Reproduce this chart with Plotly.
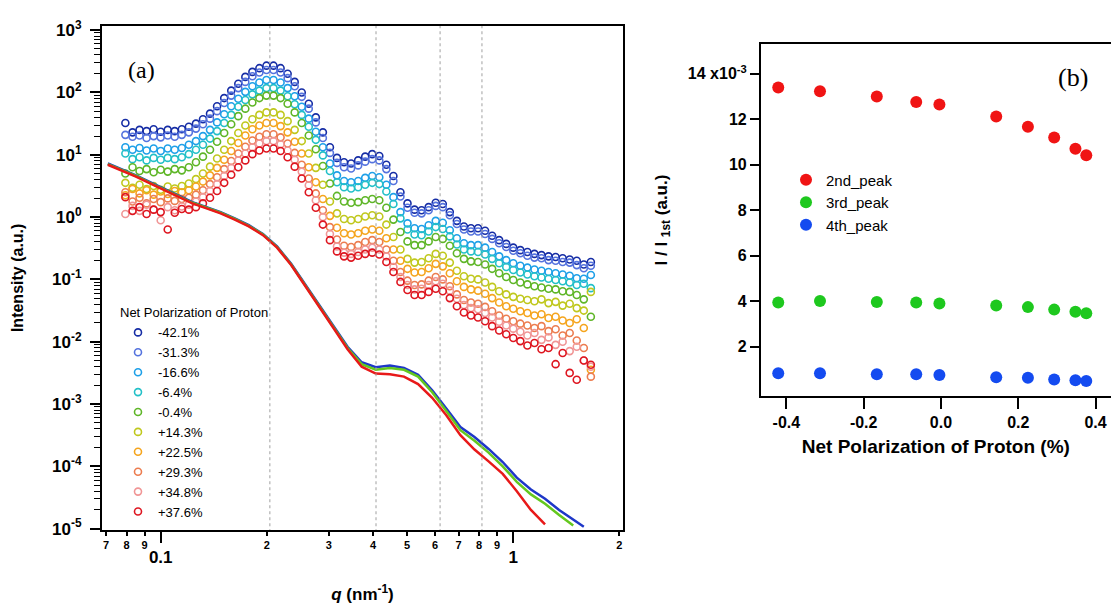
import plotly.graph_objects as go

# ---------------- DATA ----------------
# q grid (nm^-1) of the scattering profiles
q = [0.0794, 0.0832, 0.0871, 0.0912, 0.0955, 0.1000, 0.1047, 0.1096, 0.1148, 0.1202,
     0.1259, 0.1318, 0.1380, 0.1445, 0.1514, 0.1585, 0.1660, 0.1738, 0.1820, 0.1905,
     0.1995, 0.2089, 0.2188, 0.2291, 0.2399, 0.2512, 0.2630, 0.2754, 0.2884, 0.3020,
     0.3162, 0.3311, 0.3467, 0.3631, 0.3802, 0.3981, 0.4169, 0.4365, 0.4571, 0.4786,
     0.5012, 0.5248, 0.5495, 0.5754, 0.6026, 0.6310, 0.6607, 0.6918, 0.7244, 0.7586,
     0.7943, 0.8318, 0.8710, 0.9120, 0.9550, 1.0000, 1.0471, 1.0965, 1.1482, 1.2023,
     1.2589, 1.3183, 1.3804, 1.4454, 1.5136, 1.5849, 1.6596]

pol_labels = ["-42.1%", "-31.3%", "-16.6%", "-6.4%", "-0.4%",
              "+14.3%", "+22.5%", "+29.3%", "+34.8%", "+37.6%"]

# log10 of intensity (a.u.) for each polarization
log_I_m42_1 = [1.51, 1.36, 1.40, 1.38, 1.41, 1.37, 1.40, 1.38, 1.41, 1.45,
               1.50, 1.57, 1.66, 1.78, 1.91, 2.03, 2.14, 2.25, 2.33, 2.39,
               2.43, 2.43, 2.39, 2.30, 2.17, 2.00, 1.82, 1.60, 1.36, 1.12,
               0.95, 0.88, 0.86, 0.91, 0.97, 1.01, 0.98, 0.84, 0.66, 0.40,
               0.22, 0.12, 0.11, 0.16, 0.23, 0.21, 0.08, -0.06, -0.15, -0.18,
               -0.18, -0.22, -0.30, -0.37, -0.43, -0.49, -0.53, -0.56, -0.59, -0.61,
               -0.63, -0.64, -0.66, -0.68, -0.70, -0.76, -0.72]
log_I_m31_3 = [1.32, 1.29, 1.31, 1.27, 1.30, 1.28, 1.31, 1.29, 1.32, 1.36,
               1.42, 1.49, 1.58, 1.70, 1.83, 1.95, 2.07, 2.17, 2.26, 2.32,
               2.36, 2.36, 2.32, 2.23, 2.10, 1.93, 1.74, 1.52, 1.27, 1.03,
               0.87, 0.80, 0.78, 0.83, 0.89, 0.93, 0.91, 0.77, 0.58, 0.33,
               0.15, 0.07, 0.06, 0.11, 0.18, 0.16, 0.03, -0.11, -0.20, -0.23,
               -0.23, -0.27, -0.35, -0.42, -0.48, -0.54, -0.58, -0.62, -0.65, -0.66,
               -0.69, -0.70, -0.72, -0.73, -0.77, -0.82, -0.78]
log_I_m16_6 = [1.12, 1.08, 1.11, 1.07, 1.10, 1.06, 1.10, 1.08, 1.11, 1.16,
               1.22, 1.30, 1.40, 1.52, 1.65, 1.78, 1.90, 2.01, 2.10, 2.16,
               2.20, 2.20, 2.16, 2.07, 1.94, 1.77, 1.58, 1.37, 1.12, 0.86,
               0.67, 0.58, 0.56, 0.58, 0.63, 0.66, 0.64, 0.52, 0.32, 0.08,
               -0.10, -0.18, -0.19, -0.13, -0.06, -0.09, -0.21, -0.34, -0.42, -0.45,
               -0.45, -0.49, -0.56, -0.63, -0.69, -0.74, -0.78, -0.81, -0.84, -0.86,
               -0.88, -0.90, -0.92, -0.94, -0.98, -0.99, -0.93]
log_I_m6_4 = [1.02, 0.93, 0.96, 0.91, 0.95, 0.92, 0.95, 0.93, 0.96, 1.01,
              1.08, 1.16, 1.26, 1.38, 1.51, 1.64, 1.77, 1.88, 1.97, 2.03,
              2.07, 2.07, 2.03, 1.94, 1.81, 1.64, 1.45, 1.24, 0.99, 0.74,
              0.56, 0.48, 0.46, 0.48, 0.52, 0.55, 0.53, 0.41, 0.21, -0.02,
              -0.20, -0.28, -0.29, -0.23, -0.16, -0.19, -0.31, -0.44, -0.52, -0.55,
              -0.56, -0.60, -0.67, -0.74, -0.80, -0.85, -0.89, -0.92, -0.95, -0.97,
              -0.99, -1.01, -1.03, -1.05, -1.09, -1.07, -1.14]
log_I_m0_4 = [0.70, 0.80, 0.74, 0.77, 0.72, 0.76, 0.73, 0.77, 0.75, 0.80,
              0.88, 0.97, 1.08, 1.21, 1.35, 1.49, 1.62, 1.74, 1.84, 1.91,
              1.95, 1.95, 1.91, 1.82, 1.68, 1.51, 1.31, 1.09, 0.82, 0.54,
              0.34, 0.25, 0.23, 0.24, 0.27, 0.29, 0.27, 0.15, -0.04, -0.24,
              -0.39, -0.45, -0.45, -0.39, -0.32, -0.35, -0.46, -0.58, -0.67, -0.71,
              -0.72, -0.76, -0.83, -0.90, -0.96, -1.01, -1.05, -1.08, -1.11, -1.13,
              -1.15, -1.16, -1.19, -1.20, -1.25, -1.32, -1.60]
log_I_p14_3 = [0.55, 0.47, 0.52, 0.45, 0.50, 0.44, 0.49, 0.46, 0.50, 0.54,
               0.61, 0.70, 0.81, 0.94, 1.08, 1.22, 1.35, 1.47, 1.57, 1.64,
               1.68, 1.68, 1.64, 1.54, 1.40, 1.22, 1.02, 0.79, 0.52, 0.25,
               0.06, -0.03, -0.05, -0.03, 0.01, 0.03, 0.01, -0.12, -0.32, -0.52,
               -0.67, -0.73, -0.72, -0.66, -0.59, -0.62, -0.73, -0.86, -0.95, -0.99,
               -1.00, -1.05, -1.12, -1.19, -1.24, -1.28, -1.31, -1.33, -1.35, -1.32,
               -1.38, -1.36, -1.42, -1.39, -1.46, -1.50, -1.20]
log_I_p22_5 = [0.35, 0.45, 0.38, 0.43, 0.36, 0.41, 0.37, 0.42, 0.40, 0.43,
               0.49, 0.57, 0.67, 0.79, 0.92, 1.06, 1.19, 1.31, 1.41, 1.47,
               1.51, 1.51, 1.46, 1.36, 1.21, 1.02, 0.80, 0.56, 0.29, 0.02,
               -0.17, -0.26, -0.28, -0.26, -0.22, -0.20, -0.22, -0.34, -0.52, -0.70,
               -0.83, -0.89, -0.88, -0.82, -0.75, -0.79, -0.90, -1.03, -1.12, -1.16,
               -1.18, -1.23, -1.30, -1.37, -1.43, -1.47, -1.51, -1.54, -1.58, -1.56,
               -1.62, -1.60, -1.66, -1.70, -1.64, -1.78, -2.45]
log_I_p29_3 = [0.40, 0.25, 0.31, 0.22, 0.29, 0.24, 0.30, 0.26, 0.29, 0.31,
               0.36, 0.43, 0.53, 0.64, 0.77, 0.90, 1.02, 1.13, 1.23, 1.29,
               1.33, 1.33, 1.28, 1.18, 1.03, 0.84, 0.62, 0.38, 0.11, -0.16,
               -0.36, -0.46, -0.48, -0.45, -0.40, -0.37, -0.40, -0.52, -0.70, -0.88,
               -1.02, -1.09, -1.08, -1.02, -0.96, -1.00, -1.11, -1.24, -1.33, -1.37,
               -1.39, -1.44, -1.51, -1.58, -1.63, -1.67, -1.71, -1.74, -1.78, -1.75,
               -1.83, -1.80, -1.90, -1.86, -1.98, -2.10, -2.56]
log_I_p34_8 = [0.05, 0.18, 0.10, 0.20, 0.12, -0.05, 0.16, 0.11, 0.17, 0.20,
               0.25, 0.32, 0.42, 0.53, 0.66, 0.79, 0.91, 1.02, 1.12, 1.18,
               1.22, 1.22, 1.17, 1.07, 0.92, 0.73, 0.51, 0.27, 0.00, -0.27,
               -0.47, -0.57, -0.59, -0.56, -0.52, -0.49, -0.52, -0.63, -0.80, -0.96,
               -1.09, -1.16, -1.15, -1.09, -1.03, -1.07, -1.18, -1.31, -1.41, -1.46,
               -1.48, -1.54, -1.61, -1.68, -1.74, -1.79, -1.84, -1.90, -1.86, -1.97,
               -1.93, -2.05, -2.00, -2.15, -2.08, -2.30, -2.40]
log_I_p37_6 = [0.32, 0.10, 0.16, 0.05, 0.12, 0.08, -0.20, 0.07, 0.13, 0.12,
               0.16, 0.22, 0.31, 0.42, 0.55, 0.68, 0.80, 0.91, 1.01, 1.07,
               1.10, 1.10, 1.06, 0.96, 0.81, 0.62, 0.40, 0.15, -0.12, -0.37,
               -0.55, -0.63, -0.65, -0.62, -0.59, -0.57, -0.60, -0.72, -0.88, -1.04,
               -1.17, -1.25, -1.25, -1.20, -1.15, -1.19, -1.30, -1.43, -1.53, -1.58,
               -1.61, -1.67, -1.75, -1.82, -1.88, -1.94, -1.99, -2.06, -2.02, -2.12,
               -2.10, -2.36, -2.18, -2.50, -2.61, -2.30, -2.37]

# model curves (log10 intensity) on their own q grid
q_model = [0.0708, 0.0776, 0.0851, 0.0933, 0.1023, 0.1122, 0.1230, 0.1349, 0.1479, 0.1622,
           0.1778, 0.1950, 0.2138, 0.2344, 0.2570, 0.2818, 0.3090, 0.3388, 0.3715, 0.4074,
           0.4467, 0.4898, 0.5370, 0.5888, 0.6457, 0.7079, 0.7762, 0.8511, 0.9333, 1.0233,
           1.1220, 1.2303, 1.3490, 1.4791, 1.5849]
log_model_blue = [0.86, 0.77, 0.67, 0.56, 0.45, 0.34, 0.24, 0.16, 0.08, -0.02,
                  -0.13, -0.27, -0.47, -0.75, -1.08, -1.42, -1.76, -2.08, -2.33, -2.41,
                  -2.38, -2.42, -2.53, -2.78, -3.07, -3.37, -3.53, -3.72, -3.93, -4.18,
                  -4.37, -4.52, -4.70, -4.85, -4.97]
log_model_green = [0.85, 0.76, 0.66, 0.55, 0.44, 0.33, 0.23, 0.15, 0.07, -0.03,
                   -0.14, -0.28, -0.48, -0.76, -1.09, -1.43, -1.77, -2.10, -2.36, -2.45,
                   -2.42, -2.45, -2.56, -2.81, -3.11, -3.42, -3.59, -3.78, -4.00, -4.25,
                   -4.45, -4.60, -4.78, -4.95]
log_model_red = [0.84, 0.75, 0.65, 0.54, 0.43, 0.32, 0.22, 0.14, 0.06, -0.04,
                 -0.15, -0.29, -0.49, -0.77, -1.10, -1.44, -1.78, -2.12, -2.40, -2.51,
                 -2.52, -2.56, -2.68, -2.90, -3.18, -3.50, -3.73, -3.92, -4.12, -4.40,
                 -4.70, -4.93]

# Bragg peak positions (dotted guides)
peak_q = [0.204, 0.408, 0.620, 0.815]

# panel (b)
net_pol = [-0.421, -0.313, -0.166, -0.064, -0.004, 0.143, 0.225, 0.293, 0.348, 0.376]
ratio_2nd = [0.01340, 0.01323, 0.01300, 0.01276, 0.01265, 0.01212, 0.01167, 0.01120, 0.01070, 0.01042]
ratio_3rd = [0.00394, 0.00401, 0.00397, 0.00394, 0.00390, 0.00381, 0.00374, 0.00363, 0.00354, 0.00347]
ratio_4th = [0.00083, 0.00083, 0.00079, 0.00079, 0.00076, 0.00066, 0.00063, 0.00056, 0.00052, 0.00049]

# ---------------- STYLE ----------------
series_logs = [log_I_m42_1, log_I_m31_3, log_I_m16_6, log_I_m6_4, log_I_m0_4,
               log_I_p14_3, log_I_p22_5, log_I_p29_3, log_I_p34_8, log_I_p37_6]
series_colors = ["rgb(22,45,165)", "rgb(85,115,222)", "rgb(30,160,232)", "rgb(35,192,200)",
                 "rgb(95,182,40)", "rgb(192,200,30)", "rgb(245,165,30)", "rgb(236,125,80)",
                 "rgb(240,150,150)", "rgb(222,22,32)"]
SANS = "Liberation Sans, Arial, sans-serif"
SERIF = "Liberation Serif, Times New Roman, serif"

W, H = 1111, 606
def px(xp):
    return xp / W
def py(yp):
    return 1 - yp / H

fig = go.Figure()

# dotted guides (also carry the overlay axis that holds the small tick labels)
YR = [-5.02, 3.07]
for pq in peak_q:
    fig.add_trace(go.Scatter(x=[pq, pq], y=[10 ** (YR[0] - 1), 10 ** (YR[1] + 1)], mode="lines",
                             line=dict(color="rgb(160,160,160)", width=1, dash="dot"),
                             showlegend=False, hoverinfo="skip", xaxis="x3", yaxis="y"))

for lab, logs, col in zip(pol_labels, series_logs, series_colors):
    fig.add_trace(go.Scatter(
        x=q, y=[10 ** v for v in logs], mode="markers", name=lab,
        marker=dict(symbol="circle-open", size=7, color=col, line=dict(width=1.6, color=col)),
        xaxis="x", yaxis="y", legend="legend"))

for qq, logs, col in [(q_model, log_model_blue, "rgb(30,55,200)"),
                      (q_model[:len(log_model_green)], log_model_green, "rgb(100,200,30)"),
                      (q_model[:len(log_model_red)], log_model_red, "rgb(232,25,25)")]:
    fig.add_trace(go.Scatter(x=qq, y=[10 ** v for v in logs], mode="lines",
                             line=dict(color=col, width=2.5), showlegend=False,
                             xaxis="x", yaxis="y"))

for name, vals, col in [("2nd_peak", ratio_2nd, "rgb(240,20,20)"),
                        ("3rd_peak", ratio_3rd, "rgb(30,200,30)"),
                        ("4th_peak", ratio_4th, "rgb(20,75,240)")]:
    fig.add_trace(go.Scatter(x=net_pol, y=vals, mode="markers", name=name,
                             marker=dict(symbol="circle", size=12, color=col),
                             xaxis="x2", yaxis="y2", legend="legend2"))

minor_x = [0.07, 0.08, 0.09, 0.2, 0.3, 0.4, 0.5, 0.6, 0.7, 0.8, 0.9, 2]
minor_x_text = ["7", "8", "9", "2", "3", "4", "5", "6", "7", "8", "9", "2"]
dec = list(range(-5, 4))
minor_y = [m * 10 ** d for d in range(-5, 3) for m in range(2, 10)]

XR = [-1.1673, 0.312]
tick_bold = dict(family=SANS, color="black", weight="bold")

fig.update_layout(
    width=W, height=H, autosize=False,
    margin=dict(l=0, r=0, t=0, b=0),
    paper_bgcolor="white", plot_bgcolor="white",
    showlegend=True,
    xaxis=dict(type="log", domain=[px(101.7), px(623.3)], range=XR, anchor="y",
               tickvals=[0.1, 1], ticktext=["0.1", "1"], ticks="outside", ticklen=11,
               tickwidth=1.5, tickcolor="black", tickfont=dict(size=17, **tick_bold),
               showline=True, linecolor="black", linewidth=1.5, mirror=True,
               showgrid=False, zeroline=False,
               title=dict(text="<i>q</i> (nm<sup>-1</sup>)", standoff=22,
                          font=dict(size=17, family=SANS, color="black", weight="bold"))),
    xaxis3=dict(type="log", overlaying="x", anchor="y", range=XR, side="bottom",
                tickvals=minor_x, ticktext=minor_x_text, ticks="outside", ticklen=5,
                tickwidth=1.5, tickcolor="black", tickfont=dict(size=11, **tick_bold),
                showline=False, showgrid=False, zeroline=False),
    yaxis=dict(type="log", domain=[py(537), py(18.3)], range=YR, anchor="x",
               tickvals=[10 ** d for d in dec],
               ticktext=["10<sup>%d</sup>" % d for d in dec],
               ticks="outside", ticklen=10, tickwidth=1.5, tickcolor="black",
               tickfont=dict(size=17, **tick_bold), ticklabelstandoff=5,
               minor=dict(tickvals=minor_y, ticks="outside", ticklen=6, tickwidth=1,
                          tickcolor="black", showgrid=False),
               showline=True, linecolor="black", linewidth=1.5, mirror=True,
               showgrid=False, zeroline=False,
               title=dict(text="Intensity (a.u.)", standoff=24,
                          font=dict(size=16, family=SANS, color="black", weight="bold"))),
    xaxis2=dict(domain=[px(760.7), 1.0], range=[-0.4664, 0.44], anchor="y2",
                tickvals=[-0.4, -0.2, 0.0, 0.2, 0.4], ticktext=["-0.4", "-0.2", "0.0", "0.2", "0.4"],
                ticks="outside", ticklen=11, tickwidth=1.5, tickcolor="black",
                tickfont=dict(size=16, **tick_bold),
                showline=True, linecolor="black", linewidth=1.5, mirror=True,
                showgrid=False, zeroline=False,
                title=dict(text="Net Polarization of Proton (%)", standoff=10,
                           font=dict(size=19, family=SANS, color="black", weight="bold"))),
    yaxis2=dict(domain=[py(399), py(37.3)], range=[-0.00016, 0.0153], anchor="x2",
                tickvals=[0.002, 0.004, 0.006, 0.008, 0.010, 0.012, 0.014],
                ticktext=["2", "4", "6", "8", "10", "12", "14 x10<sup>-3</sup>"],
                ticks="outside", ticklen=9, tickwidth=1.5, tickcolor="black",
                tickfont=dict(size=16, **tick_bold),
                showline=True, linecolor="black", linewidth=1.5, mirror=False,
                showgrid=False, zeroline=False,
                title=dict(text="I / I <sub>1st</sub> (a.u.)", standoff=16,
                           font=dict(size=17, family=SANS, color="black", weight="bold"))),
    legend=dict(x=px(118), y=py(301), xanchor="left", yanchor="top",
                bgcolor="rgba(0,0,0,0)", tracegroupgap=0,
                font=dict(size=13, family=SANS, color="black"),
                title=dict(text="Net Polarization of Proton",
                           font=dict(size=13, family=SANS, color="black"))),
    legend2=dict(x=px(786), y=py(160), xanchor="left", yanchor="top",
                 bgcolor="rgba(0,0,0,0)",
                 font=dict(size=15, family=SANS, color="black")),
    annotations=[
        dict(text="(a)", xref="paper", yref="paper", x=px(126), y=py(64), xanchor="left",
             yanchor="middle", showarrow=False, font=dict(size=24, family=SERIF, color="black")),
        dict(text="(b)", xref="paper", yref="paper", x=px(1056), y=py(72), xanchor="left",
             yanchor="middle", showarrow=False, font=dict(size=26, family=SERIF, color="black")),
    ],
)

fig.write_html("out.html", config={"displayModeBar": False},
               post_script="document.body.style.margin='0px';")
